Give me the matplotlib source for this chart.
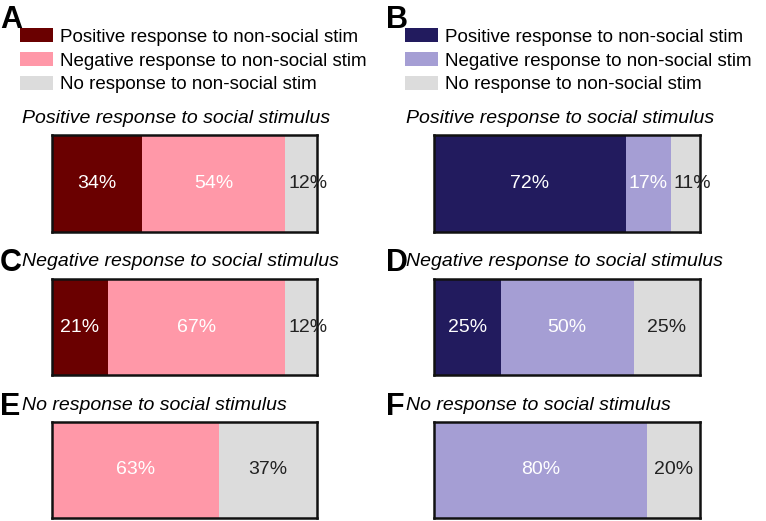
import matplotlib
matplotlib.use("Agg")
import matplotlib.pyplot as plt
from matplotlib.patches import Patch

plt.rcParams["font.family"] = ["Liberation Sans", "DejaVu Sans"]

legend_labels = [
    "Positive response to non-social stim",
    "Negative response to non-social stim",
    "No response to non-social stim",
]
row_titles = [
    "Positive response to social stimulus",
    "Negative response to social stimulus",
    "No response to social stimulus",
]

# percentages: [positive, negative, none] for each social-response row
left_values = [[34, 54, 12], [21, 67, 12], [0, 63, 37]]
right_values = [[72, 17, 11], [25, 50, 25], [0, 80, 20]]

left_colors = ["#6a0000", "#ff98a8", "#dcdcdc"]
right_colors = ["#221b5e", "#a59ed4", "#dcdcdc"]
text_colors = ["white", "white", "#222222"]

W, H = 766, 521
fig = plt.figure(figsize=(W / 100, H / 100), dpi=100)


def px_axes(x0, y0, x1, y1):
    return fig.add_axes([x0 / W, 1 - y1 / H, (x1 - x0) / W, (y1 - y0) / H])


def draw_bar(ax, values, colors):
    left = 0
    for v, c, tc in zip(values, colors, text_colors):
        if v == 0:
            continue
        ax.barh(0, v, left=left, height=1, color=c, edgecolor="none")
        if v < 15:
            # narrow segment: label starts just inside and spills over
            ax.text(left + 1.2, 0, f"{v}%", ha="left", va="center",
                    color=tc, fontsize=14, clip_on=False)
        else:
            ax.text(left + v / 2, 0, f"{v}%", ha="center", va="center",
                    color=tc, fontsize=14, clip_on=False)
        left += v
    ax.set_xlim(0, 100)
    ax.set_ylim(-0.5, 0.5)
    ax.set_xticks([])
    ax.set_yticks([])
    for s in ax.spines.values():
        s.set_linewidth(1.8)
        s.set_color("#111111")


bar_rows = [(135, 232), (279, 375), (422, 518)]
title_y = [118, 262, 405]
letters = [("A", "C", "E"), ("B", "D", "F")]
letter_y = [5, 248, 392]

for col, (x0, x1, vals, colors, tx, lx, legx) in enumerate([
    (52, 317, left_values, left_colors, 22, 0, 20),
    (434, 700, right_values, right_colors, 406, 386, 405),
]):
    for r, (y0, y1) in enumerate(bar_rows):
        ax = px_axes(x0, y0, x1, y1)
        draw_bar(ax, vals[r], colors)
        fig.text(tx / W, 1 - title_y[r] / H, row_titles[r], style="italic",
                 fontsize=14, ha="left", va="center")
        fig.text(lx / W, 1 - letter_y[r] / H, letters[col][r],
                 fontsize=22, fontweight="bold", ha="left", va="top")

    handles = [Patch(facecolor=c, edgecolor="none") for c in colors]
    fig.legend(handles, legend_labels, loc="upper left",
               bbox_to_anchor=(legx / W, 1 - 28 / H), frameon=False,
               fontsize=13.5, handlelength=1.75, handleheight=0.8,
               handletextpad=0.38, labelspacing=0.33, borderpad=0,
               borderaxespad=0)

fig.savefig("out.png", dpi=100)
